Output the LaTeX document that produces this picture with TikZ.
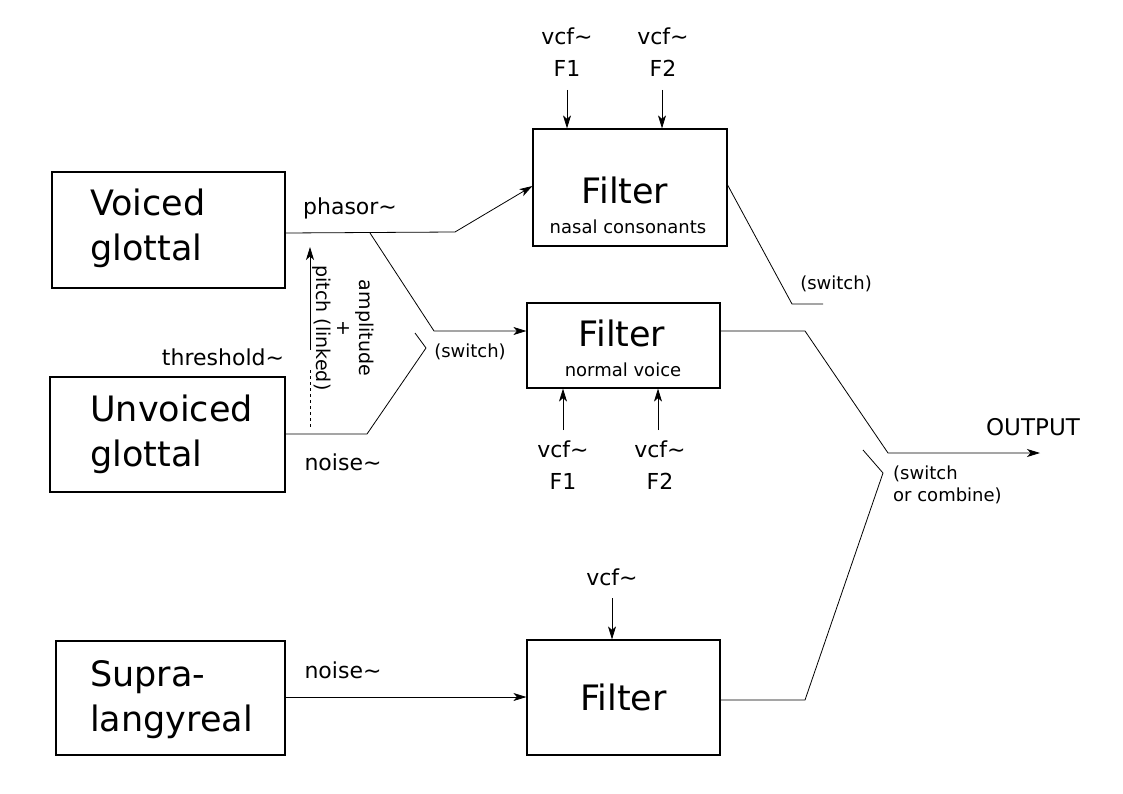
\documentclass[tikz,border=0pt]{standalone}
\usepackage{fontspec}
\setmainfont{DejaVu Sans}
\usetikzlibrary{arrows.meta}

\begin{document}
\begin{tikzpicture}[x=1pt, y=-1pt,
    srcbox/.style = {draw, line width=1.2pt, minimum width=233pt, minimum height=116pt},
    filterbox/.style = {draw, line width=1.2pt, minimum width=193pt},
    big/.style = {font=\fontsize{35}{45}\selectfont, align=left, inner sep=0pt},
    mid/.style = {font=\fontsize{22}{32}\selectfont, align=center, inner sep=0pt},
    small/.style = {font=\fontsize{18}{22}\selectfont, align=left, inner sep=0pt},
    wire/.style = {line width=0.8pt},
    arr/.style = {wire, -{Stealth[length=13pt, width=8pt, inset=3.5pt]}}]
                \useasboundingbox (0,0) rectangle (1123,794);
                % sources
                \node[srcbox] (voiced) at (168.5,230) {};
                \node[srcbox, minimum width=235pt, minimum height=115pt] (unvoiced) at (167.5,434.5) {};
                \node[srcbox, minimum width=229pt, minimum height=114pt] (supra) at (170.5,698) {};
                \node[big, anchor=west] (voicedtext) at (90,228) {Voiced\\glottal};
                \node[big, anchor=west] (unvoicedtext) at (90,434) {Unvoiced\\glottal};
                \node[big, anchor=west] (supratext) at (90,700) {Supra-\\langyreal};
                % filters
                \node[filterbox, minimum width=194pt, minimum height=117pt] (nasal) at (630,187.5) {};
                \node[filterbox, minimum height=85pt] (normal) at (623.5,345.5) {};
                \node[filterbox, minimum height=115pt, font=\fontsize{35}{43}\selectfont] (bottom) at (623.5,697.5) {Filter};
                \node[big] (nasaltitle) at (625,190) {Filter};
                \node[small] (nasalsub) at (628,227) {nasal consonants};
                \node[big] (normaltitle) at (622,333) {Filter};
                \node[small] (normalsub) at (623,370) {normal voice};
                % vcf inputs
                \node[mid] (f1a) at (567,52) {vcf\textasciitilde\\F1};
                \node[mid] (f2a) at (663,52) {vcf\textasciitilde\\F2};
                \node[mid] (f1b) at (563,465) {vcf\textasciitilde\\F1};
                \node[mid] (f2b) at (660,465) {vcf\textasciitilde\\F2};
                \node[mid] (f3) at (612,577) {vcf\textasciitilde};
                \draw[arr] (567,90) -- (nasal.north -| 567,0);
                \draw[arr] (662,90) -- (nasal.north -| 662,0);
                \draw[arr] (563,430) -- (normal.south -| 563,0);
                \draw[arr] (658,430) -- (normal.south -| 658,0);
                \draw[arr] (612,598) -- (bottom.north -| 612,0);
                % labels
                \node[mid] (phasor) at (350,208) {phasor\textasciitilde};
                \node[mid] (threshold) at (223,357) {threshold\textasciitilde};
                \node[mid] (noise1) at (343,462) {noise\textasciitilde};
                \node[mid] (noise2) at (343,670) {noise\textasciitilde};
                \node[small] (sw1) at (470,352) {(switch)};
                \node[small] (sw2) at (836,284) {(switch)};
                \node[small, anchor=west] (sw3) at (893,485) {(switch\\or combine)};
                \node[mid, font=\fontsize{23}{28}\selectfont] (output) at (1033,427) {OUTPUT};
                \node[small, align=center, font=\fontsize{19}{21.5}\selectfont, rotate=-90] (pitch) at (343,328) {amplitude\\+\\pitch (linked)};
                % wires
                \coordinate (split) at (370,233);
                \coordinate (out) at (1040,453);
                \draw[arr] (voiced.east |- 0,233) -- (455,232) -- (nasal.west |- 0,186);
                \draw[arr] (split) -- (434,331) -- (normal.west |- 0,331);
                \draw[wire] (unvoiced.east |- 0,434) -- (367,434) -- (426,348) -- (415,333);
                \draw[wire] (nasal.east |- 0,185) -- (792,304) -- (823,304);
                \draw[arr] (normal.east |- 0,331) -- (805,331) -- (888,453) -- (out);
                \draw[wire] (bottom.east |- 0,700) -- (805,700) -- (883,473) -- (863,450);
                \draw[arr] (supra.east |- 0,697) -- (bottom.west |- 0,697);
                \draw[arr] (310,350) -- (310,247);
                \draw[wire, dashed] (310,370) -- (310,428);
            \end{tikzpicture}
\end{document}
